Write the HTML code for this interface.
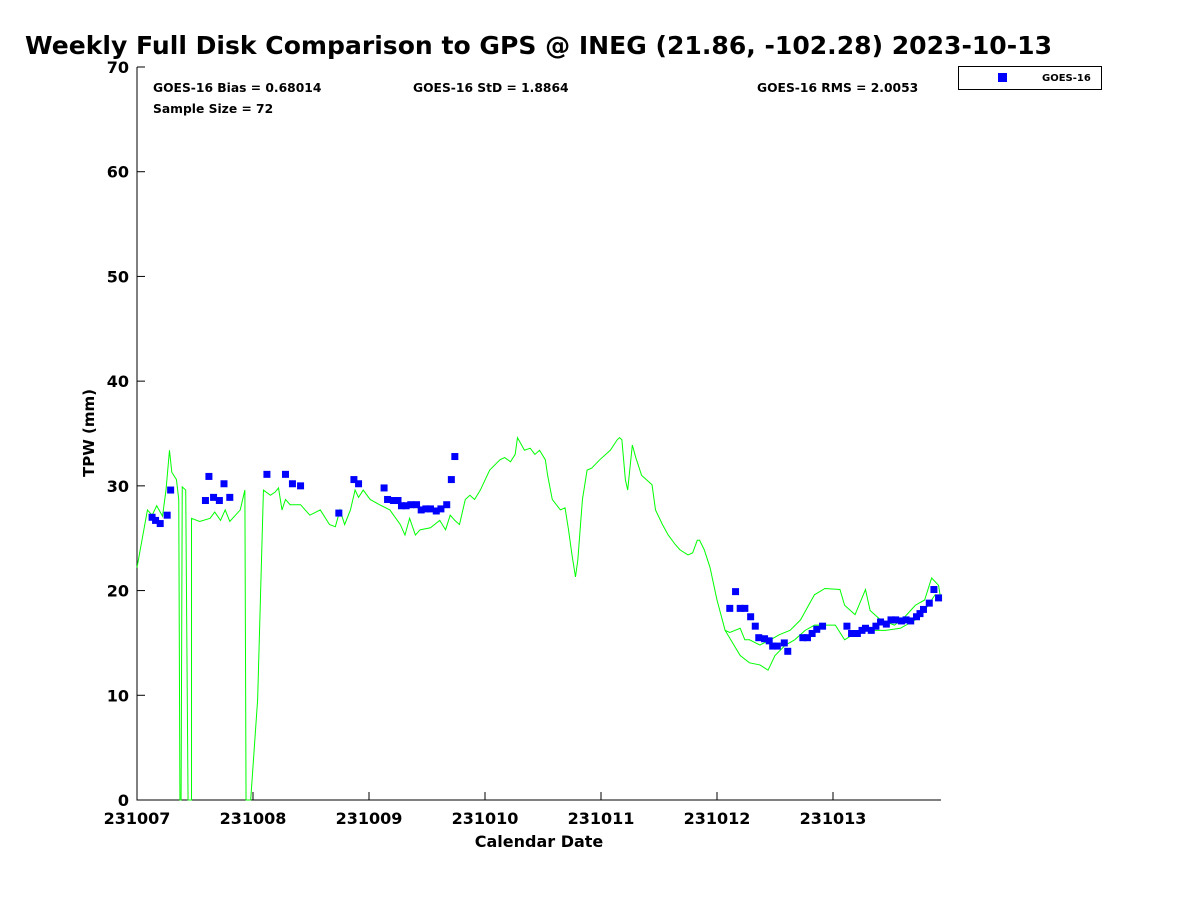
<!DOCTYPE html>
<html><head><meta charset="utf-8"><style>
body{margin:0;background:#fff;width:1200px;height:900px;overflow:hidden;font-family:"DejaVu Sans","Liberation Sans",sans-serif}
svg text{font-family:"DejaVu Sans","Liberation Sans",sans-serif;font-weight:bold}
</style></head><body>
<svg id="c" width="1200" height="900">
<text x="25" y="54" font-size="25" textLength="1027" lengthAdjust="spacingAndGlyphs">Weekly Full Disk Comparison to GPS @ INEG (21.86, -102.28) 2023-10-13</text>
<text x="153" y="92" font-size="12.3">GOES-16 Bias = 0.68014</text>
<text x="413" y="92" font-size="12.3">GOES-16 StD = 1.8864</text>
<text x="757" y="92" font-size="12.3">GOES-16 RMS = 2.0053</text>
<text x="153" y="113" font-size="12.3">Sample Size = 72</text>
<text x="539" y="847" font-size="16" text-anchor="middle">Calendar Date</text>
<text transform="translate(94,433) rotate(-90)" font-size="15" text-anchor="middle">TPW (mm)</text>
<g>
<rect x="958.5" y="66.5" width="143" height="23" fill="#fff" stroke="#000"/>
<rect x="998" y="73" width="9" height="9" fill="#0000ff"/>
<text x="1042" y="81" font-size="10">GOES-16</text>
</g>
<g id="plot"></g>
</svg>
<script>
const xTickLabels=["231007","231008","231009","231010","231011","231012","231013"];
const yTickLabels=[0,10,20,30,40,50,60,70];
const gpsDays=[0,0.09,0.13,0.17,0.2,0.22,0.25,0.28,0.3,0.34,0.36,0.37,0.38,0.39,0.42,0.44,0.47,0.47,0.54,0.63,0.67,0.72,0.76,0.8,0.89,0.93,0.94,0.98,1.04,1.09,1.15,1.19,1.22,1.25,1.28,1.32,1.41,1.49,1.58,1.66,1.71,1.75,1.79,1.84,1.88,1.91,1.95,2.01,2.09,2.18,2.27,2.31,2.35,2.4,2.44,2.53,2.61,2.66,2.7,2.74,2.78,2.83,2.87,2.91,2.96,3.04,3.13,3.17,3.22,3.26,3.28,3.34,3.39,3.43,3.47,3.52,3.54,3.58,3.65,3.69,3.72,3.75,3.78,3.8,3.84,3.88,3.92,3.99,4.08,4.14,4.16,4.18,4.21,4.23,4.27,4.3,4.35,4.41,4.44,4.47,4.53,4.58,4.64,4.68,4.75,4.79,4.83,4.85,4.89,4.94,5,5.07,5.11,5.2,5.24,5.28,5.37,5.46,5.54,5.63,5.72,5.76,5.84,5.93,6.06,6.1,6.19,6.28,6.32,6.41,6.53,6.62,6.71,6.79,6.85,6.91,6.93];
const gpsValues=[22.2,27.7,27.2,28.1,27.5,27.1,29.6,33.4,31.3,30.6,28.7,0,0,29.9,29.6,0,0,26.9,26.6,26.9,27.5,26.7,27.7,26.6,27.7,29.6,0,0,9.6,29.6,29.1,29.4,29.8,27.7,28.7,28.2,28.2,27.2,27.7,26.3,26.1,27.7,26.3,27.7,29.6,28.9,29.6,28.7,28.2,27.7,26.3,25.3,26.9,25.3,25.8,26,26.7,25.8,27.2,26.7,26.3,28.7,29.1,28.7,29.6,31.5,32.5,32.7,32.3,33,34.6,33.4,33.6,33,33.4,32.5,31,28.7,27.7,27.9,25.8,23.4,21.3,22.9,28.7,31.5,31.7,32.5,33.4,34.4,34.6,34.4,30.6,29.6,33.9,32.7,31,30.4,30.1,27.7,26.3,25.3,24.4,23.9,23.4,23.6,24.8,24.8,23.9,22.2,19.1,16.2,16,16.4,15.3,15.3,14.8,15.3,15.8,16.2,17.2,18,19.6,20.2,20.1,18.6,17.7,20.1,18.1,17.2,16.7,17.5,18.6,19.1,21.2,20.5,19.1];
const gps2Days=[5.07,5.2,5.28,5.37,5.44,5.5,5.59,5.67,5.76,5.84,6.02,6.1,6.23,6.45,6.58,6.71,6.79,6.88,6.93];
const gps2Values=[16.2,13.8,13.1,12.9,12.4,13.8,14.8,15.3,16.2,16.7,16.7,15.3,16.2,16.2,16.4,17.2,18.1,19.6,19.1];
const goesDays=[0.13,0.16,0.2,0.26,0.29,0.59,0.62,0.66,0.71,0.75,0.8,1.12,1.28,1.34,1.41,1.74,1.87,1.91,2.13,2.16,2.21,2.25,2.28,2.32,2.36,2.41,2.45,2.49,2.53,2.58,2.62,2.67,2.71,2.74,5.11,5.16,5.2,5.24,5.29,5.33,5.36,5.41,5.45,5.48,5.52,5.58,5.61,5.74,5.78,5.82,5.86,5.91,6.12,6.16,6.21,6.25,6.28,6.33,6.37,6.41,6.46,6.5,6.54,6.59,6.63,6.67,6.72,6.75,6.78,6.83,6.87,6.91];
const goesValues=[27,26.7,26.4,27.2,29.6,28.6,30.9,28.9,28.6,30.2,28.9,31.1,31.1,30.2,30,27.4,30.6,30.2,29.8,28.7,28.6,28.6,28.1,28.1,28.2,28.2,27.7,27.8,27.8,27.6,27.8,28.2,30.6,32.8,18.3,19.9,18.3,18.3,17.5,16.6,15.5,15.4,15.2,14.7,14.7,15,14.2,15.5,15.5,15.9,16.3,16.6,16.6,15.9,15.9,16.2,16.4,16.2,16.6,17,16.8,17.2,17.2,17.1,17.2,17.1,17.5,17.8,18.2,18.8,20.1,19.3];
const X0=137,X1=941,Y0=800,Y1=67;
const xs=d=>X0+d*116, ys=v=>Y0-(v/70)*(Y0-Y1);
const NS="http://www.w3.org/2000/svg",g=document.getElementById('plot');
function mk(t,a){const e=document.createElementNS(NS,t);for(const k in a)e.setAttribute(k,a[k]);g.appendChild(e);return e;}
const ax=mk('path',{d:`M${X0} ${Y1}V${Y0}H${X1}`,fill:'none',stroke:'#000','stroke-width':1});


yTickLabels.forEach(v=>{const y=ys(v);
const t=mk('line',{x1:X0,x2:X0+8,y1:y,y2:y,stroke:'#000'});


const l=mk('text',{x:X0-8,y:y+6,'font-size':16,'text-anchor':'end'});l.textContent=v;

});
xTickLabels.forEach((s,i)=>{const x=xs(i);
const t=mk('line',{x1:x,x2:x,y1:Y0,y2:Y0-8,stroke:'#000'});


const l=mk('text',{x:x,y:Y0+24,'font-size':16,'text-anchor':'middle'});l.textContent=s;

});
function line(ds,vs,name){const p=mk('polyline',{points:ds.map((d,i)=>xs(d)+','+ys(vs[i])).join(' '),fill:'none',stroke:'#00ff00','stroke-width':1});

}
line(gpsDays,gpsValues,'gps-line');
line(gps2Days,gps2Values,'gps-line-secondary');
goesDays.forEach((d,i)=>{const r=mk('rect',{x:xs(d)-3.5,y:ys(goesValues[i])-3.5,width:7,height:7,fill:'#0000ff'});

});
</script>
</body></html>
